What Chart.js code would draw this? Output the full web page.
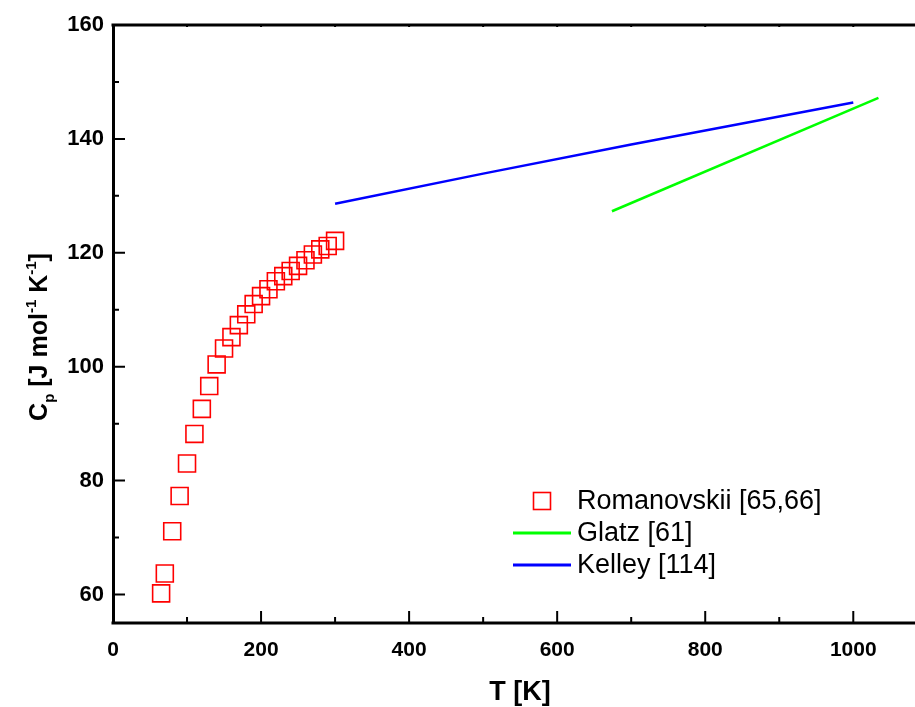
<!DOCTYPE html>
<html>
<head>
<meta charset="utf-8">
<script src="https://cdn.jsdelivr.net/npm/chart.js@4/dist/chart.umd.min.js"></script>
<style>
html,body{margin:0;padding:0;background:#fff;}
#wrap{width:915px;height:707px;position:relative;}
</style>
</head>
<body>
<div id="wrap"><canvas id="c" width="915" height="707"></canvas></div>
<script>
// Romanovskii [65,66] experimental points
const romT  = [65, 70, 80, 90, 100, 110, 120, 130, 140, 150, 160, 170, 180, 190, 200, 210, 220, 230, 240, 250, 260, 270, 280, 290, 300];
const romCp = [60.2, 63.7, 71.1, 77.3, 83.0, 88.2, 92.6, 96.6, 100.4, 103.2, 105.2, 107.3, 109.2, 111.0, 112.4, 113.6, 115.0, 115.9, 116.8, 117.7, 118.7, 119.7, 120.6, 121.2, 122.1];
// Glatz [61]
const glatzT  = [674, 1034];
const glatzCp = [127.3, 147.2];
// Kelley [114]
const kelleyT  = [300, 500, 700, 1000];
const kelleyCp = [128.6, 133.9, 139.0, 146.4];
// axis ticks
const xMajor = [0, 200, 400, 600, 800, 1000];
const xMinor = [100, 300, 500, 700, 900];
const yMajor = [60, 80, 100, 120, 140, 160];
const yMinor = [70, 90, 110, 130, 150];
const labels = ['Romanovskii [65,66]', 'Glatz [61]', 'Kelley [114]'];

const toPts = (xs, ys) => xs.map((x, i) => ({x: x, y: ys[i]}));
const FONT = "'Liberation Sans', Arial, sans-serif";

const decor = {
  id: 'decor',
  afterDraw(chart) {
    const ctx = chart.ctx, xs = chart.scales.x, ys = chart.scales.y, a = chart.chartArea;
    ctx.save();
    ctx.strokeStyle = '#000';
    ctx.lineWidth = 2;
    ctx.beginPath();
    xMajor.forEach(v => { const p = xs.getPixelForValue(v); ctx.moveTo(p, a.bottom); ctx.lineTo(p, a.bottom - 12); });
    xMinor.forEach(v => { const p = xs.getPixelForValue(v); ctx.moveTo(p, a.bottom); ctx.lineTo(p, a.bottom - 6); });
    yMajor.forEach(v => { const p = ys.getPixelForValue(v); ctx.moveTo(a.left, p); ctx.lineTo(a.left + 12, p); });
    yMinor.forEach(v => { const p = ys.getPixelForValue(v); ctx.moveTo(a.left, p); ctx.lineTo(a.left + 6, p); });
    xMajor.concat(xMinor).forEach(v => { const p = xs.getPixelForValue(v); ctx.moveTo(p, a.top); ctx.lineTo(p, a.top + 2); });
    ctx.stroke();
    // top and bottom axis lines running to the image edge
    ctx.lineWidth = 3;
    ctx.beginPath();
    ctx.moveTo(a.left - 1.5, a.top); ctx.lineTo(chart.width, a.top);
    ctx.moveTo(a.left - 1.5, a.bottom); ctx.lineTo(chart.width, a.bottom);
    ctx.stroke();

    // x title
    ctx.fillStyle = '#000';
    ctx.font = 'bold 27px ' + FONT;
    ctx.textAlign = 'center';
    ctx.textBaseline = 'alphabetic';
    ctx.fillText('T [K]', 520, 700);

    // y title (rotated, with sub/superscripts)
    const parts = [
      {t: 'C', f: 'bold 25px ', dy: 0},
      {t: 'p', f: 'bold 15px ', dy: 7},
      {t: ' [J mol', f: 'bold 25px ', dy: 0},
      {t: '-1', f: 'bold 15px ', dy: -11},
      {t: ' K', f: 'bold 25px ', dy: 0},
      {t: '-1', f: 'bold 15px ', dy: -11},
      {t: ']', f: 'bold 25px ', dy: 0}
    ];
    let total = 0;
    parts.forEach(p => { ctx.font = p.f + FONT; p.w = ctx.measureText(p.t).width; total += p.w; });
    ctx.translate(47, 337);
    ctx.rotate(-Math.PI / 2);
    ctx.textAlign = 'left';
    let x = -total / 2;
    parts.forEach(p => { ctx.font = p.f + FONT; ctx.fillText(p.t, x, p.dy); x += p.w; });
    ctx.restore();

    // legend
    ctx.save();
    const ds = chart.data.datasets;
    ctx.font = '27px ' + FONT;
    ctx.fillStyle = '#000';
    ctx.textBaseline = 'middle';
    ctx.textAlign = 'left';
    const ly = [501, 533, 565];
    ctx.strokeStyle = ds[0].borderColor; ctx.lineWidth = ds[0].borderWidth;
    ctx.strokeRect(533.5, ly[0] - 8.5, 17, 17);
    ctx.lineWidth = 3;
    ctx.strokeStyle = ds[1].borderColor;
    ctx.beginPath(); ctx.moveTo(513, ly[1]); ctx.lineTo(571, ly[1]); ctx.stroke();
    ctx.strokeStyle = ds[2].borderColor;
    ctx.beginPath(); ctx.moveTo(513, ly[2]); ctx.lineTo(571, ly[2]); ctx.stroke();
    labels.forEach((t, i) => ctx.fillText(t, 577, ly[i] + 1));
    ctx.restore();
  }
};

new Chart(document.getElementById('c'), {
  type: 'scatter',
  data: {
    datasets: [
      {label: labels[0], data: toPts(romT, romCp), pointStyle: 'rect', pointRadius: 12,
       borderColor: '#ff0000', backgroundColor: 'rgba(0,0,0,0)', borderWidth: 1.6, showLine: false},
      {label: labels[1], data: toPts(glatzT, glatzCp), borderColor: '#00ff00', backgroundColor: '#00ff00',
       borderWidth: 2.5, pointRadius: 0, showLine: true},
      {label: labels[2], data: toPts(kelleyT, kelleyCp), borderColor: '#0000ff', backgroundColor: '#0000ff',
       borderWidth: 2.5, pointRadius: 0, showLine: true}
    ]
  },
  options: {
    responsive: false,
    animation: false,
    events: [],
    layout: {padding: {left: 0, right: 0, top: 25, bottom: 0}},
    plugins: {legend: {display: false}, tooltip: {enabled: false}},
    scales: {
      x: {
        type: 'linear', min: 0, max: 1065,
        grid: {display: false, drawTicks: false},
        border: {display: false},
        ticks: {stepSize: 200, includeBounds: false, padding: 15, color: '#000',
                font: {family: FONT, size: 21, weight: 'bold'},
                callback: v => String(v)},
        afterFit: s => { s.height = 84; s.paddingLeft = 0; s.paddingRight = 0; }
      },
      y: {
        type: 'linear', min: 55, max: 160,
        grid: {display: false, drawTicks: false},
        border: {display: true, color: '#000', width: 3},
        ticks: {stepSize: 20, includeBounds: false, padding: 9, color: '#000',
                font: {family: FONT, size: 22, weight: 'bold'},
                callback: v => String(v)},
        afterFit: s => { s.width = 113; s.paddingTop = 0; s.paddingBottom = 0; s.paddingLeft = 0; s.paddingRight = 0; }
      }
    }
  },
  plugins: [decor]
});
</script>
</body>
</html>
